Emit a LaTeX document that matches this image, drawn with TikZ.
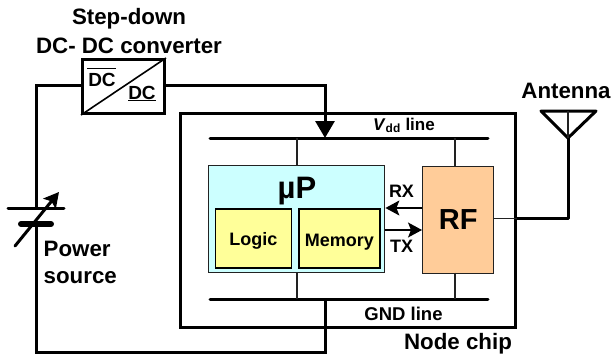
\documentclass[tikz,border=0pt]{standalone}
\usepackage{fontspec}
\setmainfont{Liberation Sans}
\usetikzlibrary{arrows.meta}
\definecolor{upc}{HTML}{CCFFFF}
\definecolor{lgc}{HTML}{FFFF99}
\definecolor{rfc}{HTML}{FFCC99}
\definecolor{thinc}{HTML}{222222}
\tikzset{
  lab/.style={font=\bfseries\fontsize{#1}{#1}\selectfont,inner sep=0pt,text=black},
  lab/.default=22.3,
  heavy/.style={line width=3pt,black},
  bus/.style={line width=3pt,black,line cap=round},
  thin wire/.style={line width=1.2pt,thinc},
  boxn/.style={draw=thinc,line width=1.4pt,inner sep=0pt,anchor=north west},
  tip/.style={-{Triangle[length=17pt,width=19pt]}},
  smalltip/.style={line width=1.3pt,black,-{Stealth[length=14pt,width=15pt,inset=3pt]}},
}
\begin{document}
\begin{tikzpicture}[x=1pt,y=-1pt]
\useasboundingbox (0,0) rectangle (611,356);
% chip
\node[draw=black,line width=3pt,inner sep=0pt,anchor=north west,minimum width=335pt,minimum height=214pt] (chip) at (179,111.5) {};
% buses
\coordinate (vl) at (210,138); \coordinate (vr) at (488,138);
\coordinate (gl) at (210,299); \coordinate (gr) at (488,299);
\draw[bus] (vl) -- (vr);
\draw[bus] (gl) -- (gr);
% blocks
\node[boxn,fill=upc,minimum width=176pt,minimum height=107pt] (up) at (208,165) {};
\node[boxn,draw=black,line width=1.6pt,fill=lgc,minimum width=76pt,minimum height=59pt,lab=18,text height=15pt,text depth=0pt] (logic) at (214.5,208) {Logic};
\node[boxn,draw=black,line width=1.6pt,fill=lgc,minimum width=81pt,minimum height=59pt,lab=18,text height=17pt,text depth=0pt] (mem) at (298,208) {Memory};
\node[boxn,fill=rfc,minimum width=71pt,minimum height=107pt,lab=29] (rf) at (422,165.5) {RF};
\node[lab=31,anchor=center] (uplab) at (297,191) {µP};
% supply stubs
\draw[thin wire] (297,138) -- (297,165);
\draw[thin wire] (297,272) -- (297,299);
\draw[thin wire] (455,138) -- (455,165.5);
\draw[thin wire] (455,272.5) -- (455,299);
% RX TX
\coordinate (rxa) at (rf.west |- 0,208); \coordinate (rxb) at (up.east |- 0,208);
\coordinate (txa) at (up.east |- 0,230); \coordinate (txb) at (rf.west |- 0,230);
\draw[smalltip] (rxa) -- (rxb);
\draw[smalltip] (txa) -- (txb);
\node[lab=18] (rx) at (401.5,191.5) {RX};
\node[lab=18] (tx) at (401.5,246) {TX};
% converter
\node[draw=black,line width=3pt,fill=white,inner sep=0pt,anchor=north west,minimum width=82pt,minimum height=54pt] (conv) at (81,58) {};
\draw[line width=1.6pt] (conv.south west) -- (conv.north east);
\node[lab=19] (dc1) at (102,80) {DC};
\draw[line width=1.3pt] (87,68.5) -- (116,68.5);
\node[lab=19] (dc2) at (142,93) {DC};
\draw[line width=1.3pt] (128,100.5) -- (156,100.5);
% main wiring
\coordinate (corner1) at (36,85);
\coordinate (plusp) at (36,208);
\coordinate (minusp) at (36,224);
\coordinate (corner2) at (36,352);
\coordinate (corner3) at (325,352);
\coordinate (gtap) at (325,299);
\coordinate (corner4) at (325,85);
\coordinate (vtap) at (325,138);
\draw[heavy,line join=miter] (conv.west |- corner1) -- (corner1) -- (plusp);
\draw[heavy,line join=miter] (minusp) -- (corner2) -- (corner3) -- (gtap);
\draw[heavy,tip] (conv.east |- corner4) -- (corner4) -- (vtap);
% battery
\coordinate (p1) at (8,208); \coordinate (p2) at (64,208);
\coordinate (m1) at (21,224); \coordinate (m2) at (51,224);
\draw[line width=3pt,line cap=round] (p1) -- (p2);
\draw[line width=6pt,line cap=round] (m1) -- (m2);
\coordinate (va) at (15,246); \coordinate (vb) at (59,192);
\draw[line width=3pt,line cap=round,-{Stealth[length=15pt,width=16pt,inset=3pt]}] (va) -- (vb);
% antenna
\coordinate (a1) at (541,111); \coordinate (a2) at (596,111); \coordinate (ap) at (568,138); \coordinate (at) at (568,111);
\draw[line width=3pt,line join=round,line cap=round] (a1) -- (a2) -- (ap) -- cycle;
\draw[thin wire,line width=1.5pt] (at) -- (ap);
\coordinate (ac) at (568,218.5);
\draw[thin wire] (rf.east |- ac) -- (chip.east |- ac);
\draw[heavy,line join=round] (chip.east |- ac) -- (ac) -- (ap);
% labels
\node[lab] (s1) at (129,19) {Step-down};
\node[lab] (s2) at (129,46) {DC- DC converter};
\node[lab] (ant) at (566,90.5) {Antenna};
\node[lab,anchor=west] (ps1) at (43.5,249) {Power};
\node[lab,anchor=west] (ps2) at (43.5,278) {source};
\node[lab=17] (vdd) at (404,125.5) {\textit{V}\textsubscript{dd} line};
\node[lab=18.5] (gnd) at (403.5,314) {GND line};
\node[lab] (nc) at (458,344) {Node chip};
\end{tikzpicture}
\end{document}
